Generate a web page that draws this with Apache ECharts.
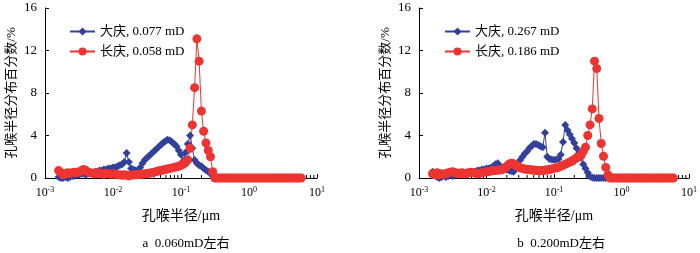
<!DOCTYPE html>
<html>
<head>
<meta charset="utf-8">
<script src="https://cdn.jsdelivr.net/npm/echarts@6/dist/echarts.min.js"></script>
<style>html,body{margin:0;padding:0;background:#fff}#c{width:700px;height:253px}</style>
</head>
<body>
<div id="c"></div>
<script>
// Pore-throat radius grid (μm)
const radius = [
  0.001585,0.001711,0.001848,0.001995,0.002154,0.002326,0.002512,0.002712,0.002929,0.003162,
  0.003415,0.003687,0.003981,0.004299,0.004642,0.005012,0.005412,0.005843,0.006310,0.006813,
  0.007356,0.007943,0.008577,0.009261,
  0.01,0.0108,0.01166,0.01259,0.01359,0.01468,0.01585,0.01711,0.01848,0.01995,
  0.02154,0.02326,0.02512,0.02712,0.02929,0.03162,0.03415,0.03687,0.03981,0.04299,
  0.04642,0.05012,0.05412,0.05843,0.0631,0.06813,0.07356,0.07943,0.08577,0.09261,
  0.1,0.108,0.1166,0.1259,0.1359,0.1468,0.1585,0.1711,0.1848,0.1995,
  0.2154,0.2326,0.2512,0.2712,0.2929,0.3162,0.3415,0.3687,0.3981,0.4299,
  0.4642,0.5012,0.5412,0.5843,0.631,0.6813,0.7356,0.7943,0.8577,0.9261,
  1,1.08,1.166,1.259,1.359,1.468,1.585,1.711,1.848,1.995,
  2.154,2.326,2.512,2.712,2.929,3.162,3.415,3.687,3.981,4.299,
  4.642,5.012,5.412,5.843
];
// (a) 0.060 mD
const dqA = [
  0.1,0.0,0.0,0.1,0.0,0.1,0.2,0.2,0.3,0.3,
  0.4,0.4,0.3,0.4,0.5,0.5,0.6,0.6,0.7,0.7,
  0.8,0.8,0.9,0.9,1.0,1.0,1.1,1.2,1.3,1.5,
  2.35,1.5,0.9,0.8,0.7,0.6,1.0,1.4,1.7,1.9,
  2.1,2.3,2.5,2.7,2.9,3.1,3.3,3.45,3.6,3.55,
  3.4,3.2,3.0,2.6,2.2,1.6,2.4,3.2,4.0,2.8,
  1.7,1.4,1.2,1.1,0.9,0.75,0.6,0.45,0.2,0.05,
  0,0,0,0,0,0,0,0,0,0,
  0,0,0,0,0,0,0,0,0,0,
  0,0,0,0,0,0,0,0,0,0,
  0,0,0,0,0,0,0,0
];
const cqA = [
  0.7,0.5,0.3,0.4,0.5,0.45,0.5,0.55,0.5,0.6,
  0.65,0.8,0.7,0.55,0.5,0.45,0.4,0.5,0.45,0.4,
  0.35,0.45,0.4,0.35,0.4,0.35,0.3,0.3,0.25,0.3,
  0.25,0.2,0.25,0.3,0.3,0.3,0.35,0.35,0.4,0.4,
  0.45,0.5,0.55,0.6,0.65,0.7,0.75,0.8,0.85,0.9,
  0.95,1.0,1.05,1.1,1.2,1.3,1.45,1.7,2.8,5.0,
  8.5,13.1,11.0,6.3,4.4,3.3,2.6,2.0,0.6,0,
  0,0,0,0,0,0,0,0,0,0,
  0,0,0,0,0,0,0,0,0,0,
  0,0,0,0,0,0,0,0,0,0,
  0,0,0,0,0,0,0,0
];
// (b) 0.200 mD
const dqB = [
  0.6,0.3,0.1,0.0,0.1,0.2,0.1,0.2,0.3,0.2,
  0.3,0.3,0.4,0.4,0.3,0.4,0.5,0.5,0.6,0.6,
  0.7,0.7,0.8,0.8,0.9,0.9,1.0,1.1,1.3,1.4,
  1.1,1.0,0.9,0.8,0.7,0.65,0.6,0.9,1.3,1.7,
  2.0,2.3,2.5,2.8,3.0,3.2,3.2,3.1,3.0,2.9,
  4.25,2.0,1.8,1.75,1.7,1.75,1.8,2.2,3.4,5.0,
  4.5,4.1,3.7,3.3,2.8,2.3,1.9,1.3,0.9,0.5,
  0.15,0.05,0,0,0,0,0,0,0,0,
  0,0,0,0,0,0,0,0,0,0,
  0,0,0,0,0,0,0,0,0,0,
  0,0,0,0,0,0,0,0
];
const cqB = [
  0.4,0.3,0.5,0.3,0.4,0.35,0.4,0.5,0.55,0.6,
  0.5,0.45,0.4,0.5,0.45,0.4,0.5,0.55,0.5,0.45,
  0.4,0.45,0.5,0.55,0.6,0.6,0.65,0.7,0.7,0.75,
  0.75,0.8,0.9,1.1,1.3,1.4,1.35,1.2,1.05,0.95,
  0.9,0.85,0.8,0.8,0.75,0.75,0.7,0.7,0.7,0.7,
  0.75,0.75,0.8,0.85,0.9,0.95,1.0,1.1,1.2,1.3,
  1.4,1.5,1.6,1.75,1.9,2.0,2.15,2.5,2.9,4.0,
  5.0,6.5,11.0,10.3,5.6,3.25,2.05,1.0,0.3,0,
  0,0,0,0,0,0,0,0,0,0,
  0,0,0,0,0,0,0,0,0,0,
  0,0,0,0,0,0,0,0
];
const namesA = ['大庆, 0.077 mD', '长庆, 0.058 mD'];
const namesB = ['大庆, 0.267 mD', '长庆, 0.186 mD'];
const captions = ['a  0.060mD左右', 'b  0.200mD左右'];
const xName = '孔喉半径/μm';
const yName = '孔喉半径分布百分数/%';
const yTicks = [0, 4, 8, 12, 16];
const minorTicks = [
  0.002,0.003,0.004,0.005,0.006,0.007,0.008,0.009,
  0.02,0.03,0.04,0.05,0.06,0.07,0.08,0.09,
  0.2,0.3,0.4,0.5,0.6,0.7,0.8,0.9,
  2,3,4,5,6,7,8,9
];

const FONT = '"Liberation Serif", "Noto Sans CJK SC", serif';
const BLUE = '#33409A';
const RED = '#EE3431';

const chart = echarts.init(document.getElementById('c'), null, {renderer: 'canvas'});

function xAxis(idx) {
  return {
    type: 'log', gridIndex: idx, logBase: 10, min: 0.001, max: 10,
    name: xName, nameLocation: 'middle', nameGap: 31,
    nameTextStyle: {fontFamily: FONT, fontSize: 14, color: '#000'},
    axisLine: {lineStyle: {color: '#000', width: 1}},
    axisTick: {inside: true, length: 4, lineStyle: {color: '#000'}},
    splitLine: {show: false},
    axisLabel: {
      margin: 8,
      formatter: function (v) { return '{b|10}{s|' + Math.round(Math.log10(v)) + '}'; },
      rich: {
        b: {fontFamily: FONT, fontSize: 12, color: '#000', lineHeight: 14},
        s: {fontFamily: FONT, fontSize: 8, color: '#000', verticalAlign: 'top', lineHeight: 14, padding: [0, 0, 6, 0]}
      }
    }
  };
}
function yAxis(idx) {
  return {
    type: 'value', gridIndex: idx, min: yTicks[0], max: yTicks[yTicks.length - 1], interval: 4,
    name: yName, nameLocation: 'middle', nameGap: 27, nameRotate: 90,
    nameTextStyle: {fontFamily: FONT, fontSize: 13, color: '#000'},
    axisLine: {show: true, lineStyle: {color: '#000', width: 1}},
    axisTick: {show: true, inside: true, length: 4, lineStyle: {color: '#000'}},
    splitLine: {show: false},
    axisLabel: {fontFamily: FONT, fontSize: 13, color: '#000', margin: 8}
  };
}
function lineSeries(name, idx, vals, color, symbol, size) {
  return {
    name: name, type: 'line', xAxisIndex: idx, yAxisIndex: idx,
    data: radius.map((r, k) => [r, vals[k]]),
    symbol: symbol, symbolSize: size, showSymbol: true,
    lineStyle: {color: color, width: 1},
    itemStyle: {color: color},
    z: 3
  };
}
function minorSeries(idx) {
  return {
    type: 'custom', xAxisIndex: idx, yAxisIndex: idx, silent: true, z: 1,
    data: minorTicks.map(v => [v, 0]),
    renderItem: function (params, api) {
      const p = api.coord([api.value(0), 0]);
      return {type: 'line', shape: {x1: p[0], y1: p[1], x2: p[0], y2: p[1] - 3},
              style: {stroke: '#000', lineWidth: 1}};
    }
  };
}

const legendCommon = {
  orient: 'vertical', itemWidth: 25, itemHeight: 10, itemGap: 7,
  textStyle: {fontFamily: FONT, fontSize: 13, color: '#000'}
};

chart.setOption({
  animation: false,
  backgroundColor: '#fff',
  grid: [
    {left: 45, top: 8, width: 272, height: 170},
    {left: 419, top: 8, width: 274, height: 170}
  ],
  xAxis: [xAxis(0), xAxis(1)],
  yAxis: [yAxis(0), yAxis(1)],
  legend: [
    Object.assign({data: namesA, left: 64, top: 20}, legendCommon),
    Object.assign({data: namesB, left: 439, top: 20}, legendCommon)
  ],
  title: [
    {text: captions[0], left: 181, top: 232, textAlign: 'center',
     textStyle: {fontFamily: FONT, fontSize: 13, fontWeight: 'normal', color: '#000'}},
    {text: captions[1], left: 556, top: 232, textAlign: 'center',
     textStyle: {fontFamily: FONT, fontSize: 13, fontWeight: 'normal', color: '#000'}}
  ],
  series: [
    minorSeries(0), minorSeries(1),
    lineSeries(namesA[0], 0, dqA, BLUE, 'diamond', 8),
    lineSeries(namesA[1], 0, cqA, RED, 'circle', 9),
    lineSeries(namesB[0], 1, dqB, BLUE, 'diamond', 8),
    lineSeries(namesB[1], 1, cqB, RED, 'circle', 9)
  ]
});
</script>
</body>
</html>
